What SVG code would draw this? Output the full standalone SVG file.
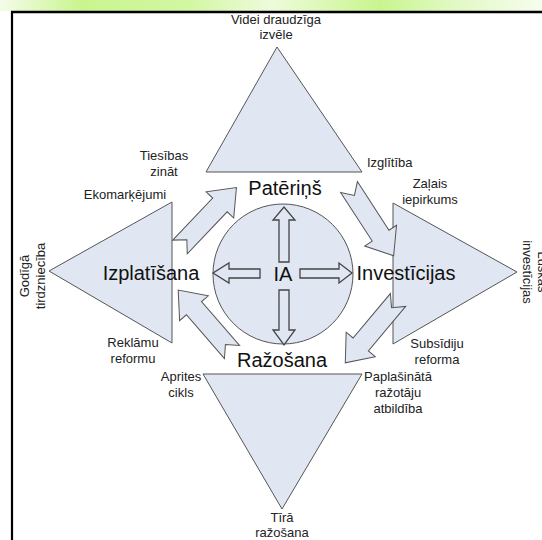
<svg xmlns="http://www.w3.org/2000/svg" width="542" height="540" viewBox="0 0 542 540">
<defs>
<linearGradient id="bar" x1="0" y1="0" x2="1" y2="0">
<stop offset="0" stop-color="#f4fce9"/>
<stop offset="0.15" stop-color="#c9f58f"/>
<stop offset="0.35" stop-color="#d2f7a2"/>
<stop offset="0.5" stop-color="#eefbdc"/>
<stop offset="0.7" stop-color="#c9f58f"/>
<stop offset="0.85" stop-color="#e3f9c8"/>
<stop offset="1" stop-color="#f6fdee"/>
</linearGradient>
<polygon id="blk" points="0,-10 58,-10 58,-19 82,0 58,19 58,10 0,10 10,0"/>
</defs>
<style>
.sh{fill:#e0e6f2;stroke:#555;stroke-width:1}
.ia{fill:#e0e6f2;stroke:#444;stroke-width:1.3}
.t{font-family:"Liberation Sans",Arial,sans-serif;font-size:13px;fill:#222;text-anchor:middle}
.b{font-family:"Liberation Sans",Arial,sans-serif;font-size:20px;fill:#111;text-anchor:middle}
</style>
<rect x="0" y="0" width="542" height="11" fill="url(#bar)"/>
<line x1="11" y1="12" x2="542" y2="12" stroke="#000" stroke-width="2.4"/>
<line x1="12" y1="11" x2="12" y2="540" stroke="#000" stroke-width="2.2"/>

<g id="tri-top"><polygon class="sh" points="206,172 362,172 277,47"/></g>
<g id="tri-left"><polygon class="sh" points="49,271 172,202 172,343"/></g>
<g id="tri-right"><polygon class="sh" points="393,203 393,344 517,272"/></g>
<g id="tri-bottom"><polygon class="sh" points="203,374 362,374 282,509"/></g>

<g id="ia">
<circle class="sh" cx="283" cy="274" r="70"/>
<polygon class="ia" points="279,262 279,220 273,220 284,207 295,220 289,220 289,262"/>
<polygon class="ia" points="279,290 279,330 273,330 284,345 295,330 289,330 289,290"/>
<polygon class="ia" points="260,269 229,269 229,263 213,273 229,283 229,278 260,278"/>
<polygon class="ia" points="300,269 339,269 339,263 352,273 339,283 339,278 300,278"/>
<text class="b" x="283" y="281" font-size="22">IA</text>
</g>

<g id="connectors">
<use href="#blk" class="sh" transform="translate(180,247) rotate(-46.5)"/>
<use href="#blk" class="sh" transform="translate(349,187) rotate(57)"/>
<use href="#blk" class="sh" transform="translate(398,300) rotate(130)"/>
<use href="#blk" class="sh" transform="translate(232,352) rotate(229)"/>
</g>

<g id="n-pateriņš"><text class="b" x="285" y="195">Patēriņš</text></g>
<g id="n-razosana"><text class="b" x="282" y="367">Ražošana</text></g>
<g id="n-izplatisana"><text class="b" x="151" y="280">Izplatīšana</text></g>
<g id="n-investicijas"><text class="b" x="406" y="280">Investīcijas</text></g>

<g id="labels">
<text class="t" x="276" y="24">Videi draudzīga</text>
<text class="t" x="276" y="39">izvēle</text>
<text class="t" x="164" y="160">Tiesības</text>
<text class="t" x="164" y="176">zināt</text>
<text class="t" x="125" y="199">Ekomarķējumi</text>
<text class="t" x="367" y="167" style="text-anchor:start">Izglītība</text>
<text class="t" x="430" y="188">Zaļais</text>
<text class="t" x="430" y="204">iepirkums</text>
<text class="t" x="133" y="347">Reklāmu</text>
<text class="t" x="133" y="363">reformu</text>
<text class="t" x="181" y="381">Aprites</text>
<text class="t" x="181" y="397">cikls</text>
<text class="t" x="437" y="348">Subsīdiju</text>
<text class="t" x="437" y="364">reforma</text>
<text class="t" x="398" y="381">Paplašinātā</text>
<text class="t" x="398" y="397">ražotāju</text>
<text class="t" x="398" y="413">atbildība</text>
<text class="t" x="282" y="522">Tīrā</text>
<text class="t" x="282" y="537">ražošana</text>
<text class="t" transform="translate(29,276) rotate(-90)">Godīgā</text>
<text class="t" transform="translate(45,276) rotate(-90)">tirdzniecība</text>
<text class="t" transform="translate(538,272) rotate(90)">Luskas</text>
<text class="t" transform="translate(523,272) rotate(90)">investīcijas</text>
</g>
</svg>
